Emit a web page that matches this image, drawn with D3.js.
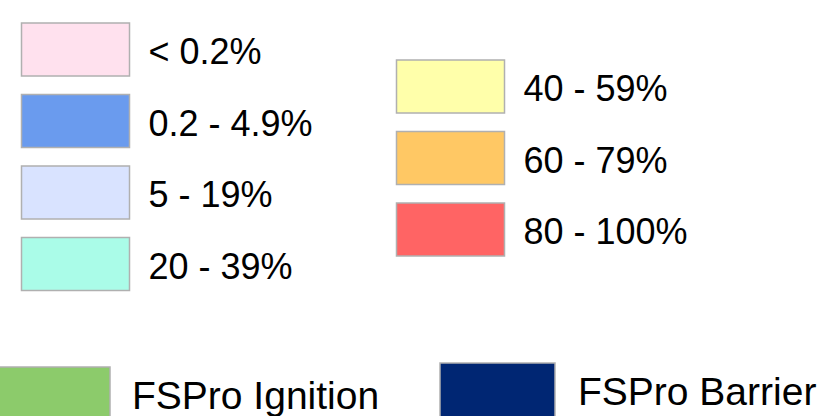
<!DOCTYPE html>
<html>
<head>
<meta charset="utf-8">
<script src="https://cdn.jsdelivr.net/npm/d3@7"></script>
<style>
  body { margin: 0; background: #fff; }
  text { font-family: "Liberation Sans", Arial, sans-serif; fill: #000; }
</style>
</head>
<body>
<svg id="svg" width="831" height="416"></svg>
<script>
// probability classes (left column, right column) and the two marker entries
var leftLabels = ["< 0.2%", "0.2 - 4.9%", "5 - 19%", "20 - 39%"];
var rightLabels = ["40 - 59%", "60 - 79%", "80 - 100%"];
var classColors = ["#ffe1ee", "#6a9bee", "#d9e3ff", "#aafce8", "#ffffaa", "#ffc864", "#ff6464"];
var markerLabels = ["FSPro Ignition", "FSPro Barrier"];
var markerColors = ["#8ccb6b", "#002673"];

var svg = d3.select("#svg");

var color = d3.scaleOrdinal()
    .domain(leftLabels.concat(rightLabels))
    .range(classColors);

var markerColor = d3.scaleOrdinal().domain(markerLabels).range(markerColors);

// row spacing is the same for both columns, only the start differs
var rowLeft = d3.scaleLinear().domain([0, 1]).range([23, 94.5]);
var rowRight = d3.scaleLinear().domain([0, 1]).range([60, 131.5]);

function drawColumn(labels, x, row) {
    var g = svg.append("g");
    var item = g.selectAll("g").data(labels).enter().append("g")
        .attr("transform", function(d, i) { return "translate(" + x + "," + row(i) + ")"; });
    item.append("rect")
        .attr("width", 108)
        .attr("height", 53)
        .attr("fill", function(d) { return color(d); })
        .attr("stroke", "#b0b0b0")
        .attr("stroke-width", 1.5);
    item.append("text")
        .attr("x", 127)
        .attr("y", 41)
        .style("font-size", "36px")
        .text(function(d) { return d; });
}

drawColumn(leftLabels, 21.5, rowLeft);
drawColumn(rightLabels, 396.5, rowRight);

// bottom markers, both boxes run off the bottom edge
var markerX = d3.scalePoint().domain(markerLabels).range([-1, 440]);
var markerTop = { "FSPro Ignition": 367, "FSPro Barrier": 363 };
var markerBase = { "FSPro Ignition": 409, "FSPro Barrier": 405 };

var m = svg.append("g").selectAll("g").data(markerLabels).enter().append("g");
m.append("rect")
    .attr("x", function(d) { return markerX(d); })
    .attr("y", function(d) { return markerTop[d]; })
    .attr("width", function(d, i) { return i ? 115 : 111; })
    .attr("height", 70)
    .attr("fill", function(d) { return markerColor(d); })
    .attr("stroke", "#b0b0b0")
    .attr("stroke-width", 1.5);
m.append("text")
    .attr("x", function(d, i) { return markerX(d) + (i ? 138 : 133); })
    .attr("y", function(d) { return markerBase[d]; })
    .style("font-size", "39px")
    .text(function(d) { return d; });
</script>
</body>
</html>
